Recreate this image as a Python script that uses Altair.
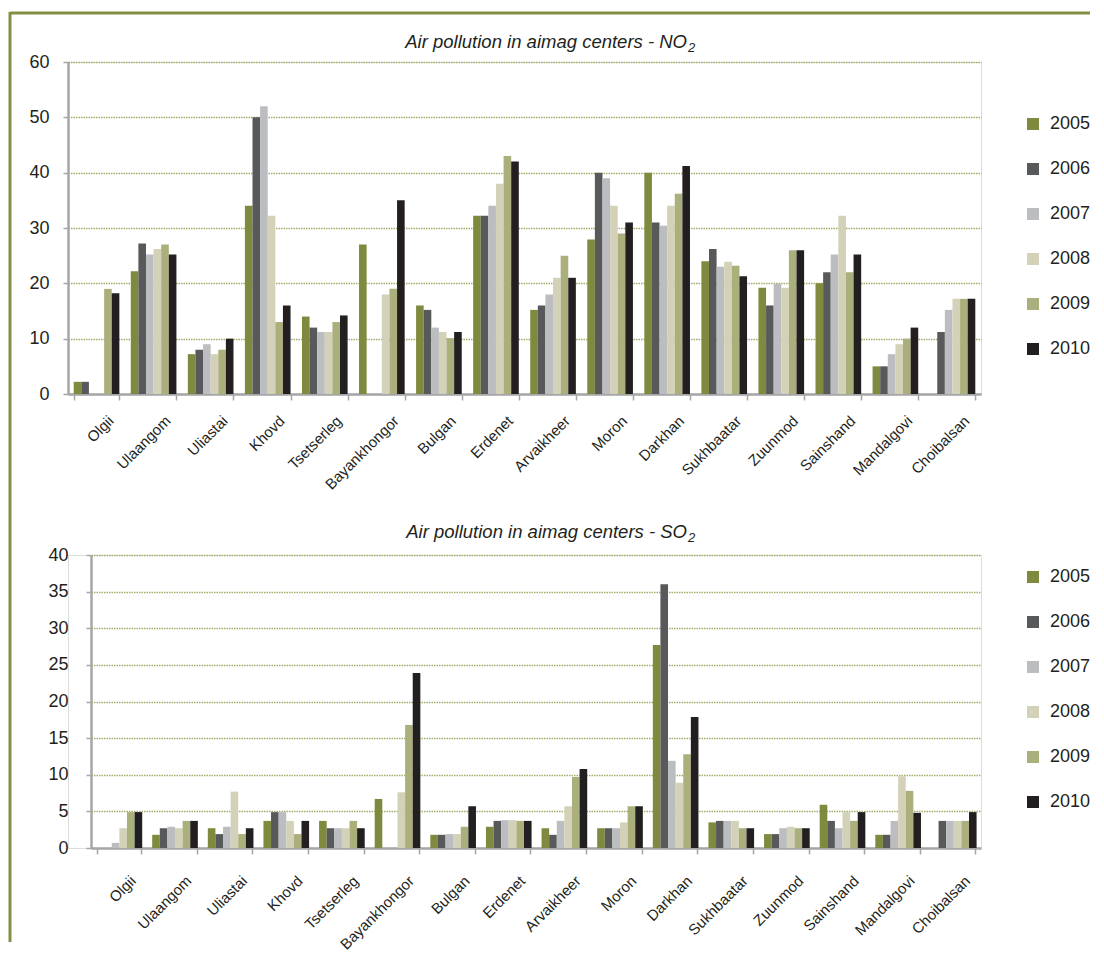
import altair as alt
import pandas as pd

cities = ["Olgii", "Ulaangom", "Uliastai", "Khovd", "Tsetserleg", "Bayankhongor",
          "Bulgan", "Erdenet", "Arvaikheer", "Moron", "Darkhan", "Sukhbaatar",
          "Zuunmod", "Sainshand", "Mandalgovi", "Choibalsan"]
years = ["2005", "2006", "2007", "2008", "2009", "2010"]

# NO2 by year (one value per city)
no2_2005 = [2.2, 22.2, 7.2, 34, 14, 27, 16, 32.2, 15.2, 27.9, 40, 24, 19.2, 20, 5, None]
no2_2006 = [2.2, 27.2, 8, 50, 12, None, 15.2, 32.2, 16, 40, 31, 26.2, 16, 22, 5, 11.2]
no2_2007 = [None, 25.2, 9, 52, 11.2, None, 12, 34, 18, 39, 30.4, 23, 19.9, 25.2, 7.2, 15.2]
no2_2008 = [None, 26.2, 7.2, 32.2, 11.2, 18, 11.2, 38, 21, 34, 34, 23.9, 19.2, 32.2, 9, 17.2]
no2_2009 = [19, 27, 8, 13, 13, 19, 10.1, 43, 25, 29, 36.2, 23.2, 26, 22, 10, 17.2]
no2_2010 = [18.2, 25.2, 10, 16, 14.2, 35, 11.2, 42, 21, 31, 41.2, 21.3, 26, 25.2, 12, 17.2]

# SO2 by year
so2_2005 = [None, 1.8, 2.7, 3.7, 3.7, 6.7, 1.8, 2.9, 2.7, 2.7, 27.7, 3.5, 1.9, 5.9, 1.8, None]
so2_2006 = [None, 2.7, 1.9, 4.9, 2.7, None, 1.8, 3.7, 1.8, 2.7, 36, 3.7, 1.9, 3.7, 1.8, 3.7]
so2_2007 = [0.7, 2.9, 2.9, 4.9, 2.7, None, 1.9, 3.8, 3.7, 2.7, 11.9, 3.7, 2.7, 2.7, 3.7, 3.7]
so2_2008 = [2.7, 2.7, 7.7, 3.7, 2.7, 7.6, 1.9, 3.8, 5.7, 3.5, 8.9, 3.7, 2.9, 4.9, 9.8, 3.7]
so2_2009 = [4.9, 3.7, 1.9, 1.9, 3.7, 16.8, 2.9, 3.7, 9.7, 5.7, 12.8, 2.7, 2.7, 3.7, 7.8, 3.7]
so2_2010 = [4.9, 3.7, 2.7, 3.7, 2.7, 23.9, 5.7, 3.7, 10.8, 5.7, 17.9, 2.7, 2.7, 4.9, 4.8, 4.9]

no2_ticks = [0, 10, 20, 30, 40, 50, 60]
so2_ticks = [0, 5, 10, 15, 20, 25, 30, 35, 40]

colors = ["#7f8a3e", "#58595b", "#bcbdc0", "#d3d1b8", "#abaf7c", "#231f20"]
FONT = "Liberation Sans"
TXT = "#231f20"
GRID = "#a3ac6c"
AXC = "#a6a6a8"
FRAME = "#848f45"

W = 913


def long_df(series):
    rows = []
    for yr, vals in zip(years, series):
        for c, v in zip(cities, vals):
            if v is not None:
                rows.append({"city": c, "year": yr, "value": v})
    return pd.DataFrame(rows)


def panel(df, ticks, height, x_start, label_pad, ylabel_pad, legend_y, title_main, title_sub, title_y):
    color = alt.Color(
        "year:N",
        scale=alt.Scale(domain=years, range=colors),
        legend=alt.Legend(orient="none", legendX=956, legendY=legend_y, title=None,
                          symbolType="square", symbolSize=144, symbolStrokeWidth=0,
                          labelFontSize=18, labelFont=FONT, labelColor=TXT,
                          rowPadding=27, labelOffset=8, padding=0),
    )
    bars = alt.Chart(df).mark_bar().encode(
        x=alt.X("city:N", sort=cities,
                scale=alt.Scale(range=[x_start, W], paddingInner=0.2, paddingOuter=0.1),
                axis=alt.Axis(title=None, labelAngle=315, labelFont=FONT, labelFontSize=15,
                              labelColor=TXT, labelPadding=label_pad, labelOffset=9,
                              tickBand="extent",
                              tickSize=6, tickColor=AXC, tickWidth=1.5,
                              domainColor=AXC, domainWidth=2.5, grid=False)),
        xOffset=alt.XOffset("year:N", sort=years,
                            scale=alt.Scale(paddingInner=0, paddingOuter=0)),
        y=alt.Y("value:Q",
                scale=alt.Scale(domain=[0, ticks[-1]], nice=False),
                axis=alt.Axis(title=None, values=ticks, offset=-x_start,
                              labelFont=FONT, labelFontSize=18, labelColor=TXT,
                              labelPadding=ylabel_pad, tickSize=5, tickColor=AXC, tickWidth=1.5,
                              domainColor=AXC, domainWidth=2.5,
                              grid=True, gridColor=GRID, gridDash=[1.5, 1], gridWidth=1.3)),
        color=color,
    )
    one = alt.Data(values=[{"k": 1}])
    t_main = alt.Chart(one).mark_text(
        text=title_main, font=FONT, fontSize=18.5, fontStyle="italic", color=TXT,
        align="right", baseline="alphabetic"
    ).encode(x=alt.value(619), y=alt.value(title_y))
    t_sub = alt.Chart(one).mark_text(
        text=title_sub, font=FONT, fontSize=13, fontStyle="italic", color=TXT,
        align="left", baseline="alphabetic"
    ).encode(x=alt.value(620), y=alt.value(title_y + 4))
    return [bars, t_main, t_sub]


one = alt.Data(values=[{"k": 1}])
hline = alt.Chart(one).mark_rule(color=FRAME, strokeWidth=3).encode(
    x=alt.value(-58), x2=alt.value(1022), y=alt.value(-49))
vline = alt.Chart(one).mark_rule(color=FRAME, strokeWidth=3).encode(
    x=alt.value(-58), y=alt.value(-50), y2=alt.value(880))

top_layers = panel(long_df([no2_2005, no2_2006, no2_2007, no2_2008, no2_2009, no2_2010]),
                   no2_ticks, 332, 0, 13, 14, 53,
                   "Air pollution in aimag centers - NO", "2", -14)
bot_layers = panel(long_df([so2_2005, so2_2006, so2_2007, so2_2008, so2_2009, so2_2010]),
                   so2_ticks, 293, 23, 19, 18, 13,
                   "Air pollution in aimag centers - SO", "2", -17.5)

top = alt.layer(hline, vline, *top_layers).properties(width=W, height=332)
bottom = alt.layer(*bot_layers).properties(width=W, height=293)

chart = alt.vconcat(top, bottom, spacing=161, bounds="flush").resolve_scale(
    color="independent", x="independent", y="independent"
).properties(
    padding={"left": 0, "top": 2, "right": 0, "bottom": 0}
).configure_view(stroke=None).configure(font=FONT)

chart.save("out.html", embed_options={"renderer": "svg", "actions": False})
